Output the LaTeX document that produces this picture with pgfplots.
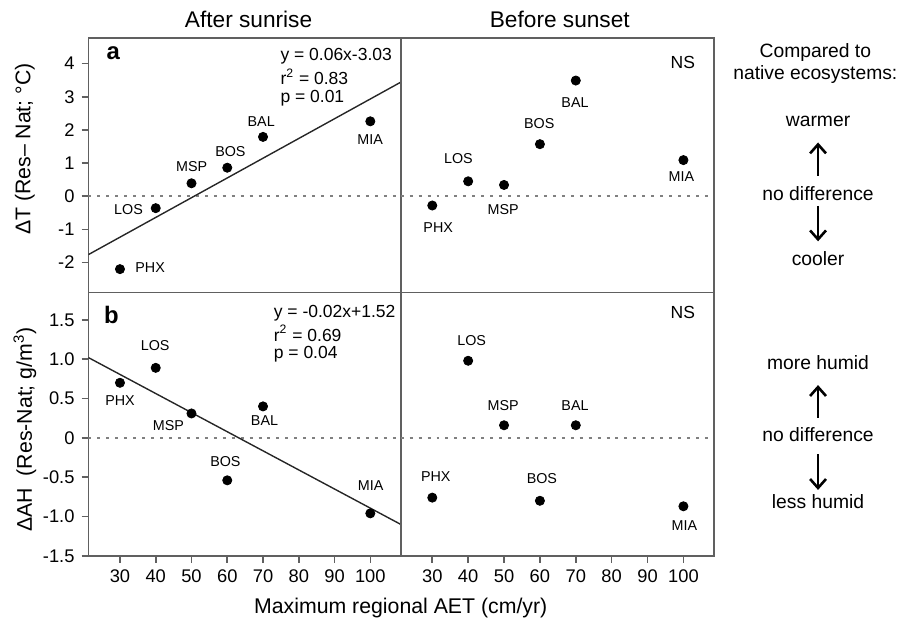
\documentclass[border=0pt]{standalone}
\usepackage{fontspec}
\setmainfont{Liberation Sans}
\usepackage{pgfplots}
\pgfplotsset{compat=1.18}
\usetikzlibrary{arrows.meta}

\pgfplotsset{
  panel/.style={
    scale only axis, anchor=north west,
    axis line style={draw=gray!75!black, line width=0.8pt},
    tick style={draw=gray!75!black, line width=0.8pt},
    tick align=outside, major tick length=3.5pt,
    xmin=21.2, xmax=108.5,
    xtick pos=bottom, ytick pos=left,
    /pgf/number format/assume math mode=true,
    ticklabel style={font=\fontsize{9.2}{10}\selectfont},
    xtick={30,40,50,60,70,80,90,100},
  },
  zero/.style={gray, dash pattern=on 1.5pt off 3pt, line width=0.8pt},
  pts/.style={only marks, mark=*, mark size=2.3pt, black},
  reg/.style={gray!30!black, line width=0.7pt},
}

\begin{document}
\begin{tikzpicture}
\path (0,0) rectangle (452pt,312.5pt);

% ---------- panel a: After sunrise, dT ----------
\begin{axis}[panel, at={(44.5pt,293.5pt)}, width=157pt, height=128pt,
  ymin=-2.9, ymax=4.78, xtick=\empty,
  ytick={-2,-1,0,1,2,3,4}, yticklabels={-2,-1,0,1,2,3,4}]
\addplot[zero] coordinates {(21.2,0) (108.5,0)};
\addplot[reg] coordinates {(21.2,-1.76) (108.5,3.44)};
\addplot[pts] coordinates {(30,-2.2) (40,-0.36) (50,0.39) (60,0.86) (70,1.79) (100,2.26)};
\end{axis}

% ---------- panel c: Before sunset, dT ----------
\begin{axis}[panel, at={(201.5pt,293.5pt)}, width=157.5pt, height=128pt,
  ymin=-2.9, ymax=4.78, xtick=\empty, ytick=\empty]
\addplot[zero] coordinates {(21.2,0) (108.5,0)};
\addplot[pts] coordinates {(30,-0.28) (40,0.45) (50,0.34) (60,1.57) (70,3.49) (100,1.09)};
\end{axis}

% ---------- panel b: After sunrise, dAH ----------
\begin{axis}[panel, at={(44.5pt,165.5pt)}, width=157pt, height=132.5pt,
  ymin=-1.5, ymax=1.85,
  xticklabels={30,40,50,60,70,80,90,100},
  ytick={-1.5,-1,-0.5,0,0.5,1,1.5}, yticklabels={-1.5,-1.0,-0.5,0,0.5,1.0,1.5}]
\addplot[zero] coordinates {(21.2,0) (108.5,0)};
\addplot[reg] coordinates {(21.2,1.02) (108.5,-1.10)};
\addplot[pts] coordinates {(30,0.70) (40,0.89) (50,0.31) (60,-0.54) (70,0.40) (100,-0.96)};
\end{axis}

% ---------- panel d: Before sunset, dAH ----------
\begin{axis}[panel, at={(201.5pt,165.5pt)}, width=157.5pt, height=132.5pt,
  ymin=-1.5, ymax=1.85, ytick=\empty,
  xticklabels={30,40,50,60,70,80,90,100}]
\addplot[zero] coordinates {(21.2,0) (108.5,0)};
\addplot[pts] coordinates {(30,-0.76) (40,0.98) (50,0.16) (60,-0.80) (70,0.16) (100,-0.87)};
\end{axis}

\begin{scope}[x=0.5pt, y=-0.5pt, shift={(0pt,312.5pt)}]
% ---------- titles and axis labels ----------
\node[font=\fontsize{11.4}{13}\selectfont] at (250,20) {After sunrise};
\node[font=\fontsize{11.4}{13}\selectfont] at (563,20) {Before sunset};
\node[font=\fontsize{10.7}{12}\selectfont] at (403,611) {Maximum regional AET (cm/yr)};
\node[font=\fontsize{10.7}{12}\selectfont, rotate=90] at (25,150) {ΔT (Res– Nat; °C)};
\node[font=\fontsize{10.7}{12}\selectfont, rotate=90] at (25,432) {ΔAH\ \ (Res-Nat; g/m\textsuperscript{3})};

% ---------- panel letters, stats ----------
\node[font=\fontsize{12}{14}\selectfont\bfseries] at (114,53) {a};
\node[font=\fontsize{12}{14}\selectfont\bfseries] at (112,317) {b};
\begin{scope}[every node/.style={font=\fontsize{8.8}{10}\selectfont, anchor=west, inner sep=0pt}]
\node at (281.7,56.7) {y = 0.06x-3.03};
\node at (281.7,77.3) {r\textsuperscript{2} = 0.83};
\node at (281.7,98.3) {p = 0.01};
\node at (275,315) {y = -0.02x+1.52};
\node at (275,335) {r\textsuperscript{2} = 0.69};
\node at (275,356) {p = 0.04};
\end{scope}
\node[font=\fontsize{8.8}{10}\selectfont] at (686.7,62.7) {NS};
\node[font=\fontsize{8.8}{10}\selectfont] at (686.7,314) {NS};

% ---------- point labels ----------
\begin{scope}[every node/.style={font=\fontsize{7.2}{8}\selectfont, inner sep=0pt}]
% a
\node at (151,269.3) {PHX};
\node at (129.3,210.7) {LOS};
\node at (192.7,167.7) {MSP};
\node at (231.7,152) {BOS};
\node at (262.7,122.3) {BAL};
\node at (372.3,140) {MIA};
% c
\node at (440.7,228.7) {PHX};
\node at (461,159) {LOS};
\node at (506,211) {MSP};
\node at (542.3,124) {BOS};
\node at (578.3,102.7) {BAL};
\node at (685.3,177.7) {MIA};
% b
\node at (120.7,403.3) {PHX};
\node at (156,347.3) {LOS};
\node at (169.3,427.7) {MSP};
\node at (226.7,464) {BOS};
\node at (266,423.3) {BAL};
\node at (372.7,488.3) {MIA};
% d
\node at (438.3,479) {PHX};
\node at (474.3,342.7) {LOS};
\node at (506,407.7) {MSP};
\node at (545,481.7) {BOS};
\node at (578.3,408.3) {BAL};
\node at (688.3,528.7) {MIA};
\end{scope}

% ---------- right annotations ----------
\begin{scope}[every node/.style={font=\fontsize{9.7}{11}\selectfont}]
\node at (820,52.7) {Compared to};
\node at (820,75) {native ecosystems:};
\node at (822.7,121.7) {warmer};
\node at (822.7,194.3) {no difference};
\node at (822.7,260) {cooler};
\node at (822.7,365) {more humid};
\node at (822.7,437.3) {no difference};
\node at (822.7,504) {less humid};
\end{scope}
\begin{scope}[line width=1.3pt, -{Straight Barb[length=4.5pt,width=8pt]}]
\draw (822.7,176.7) -- (822.7,143.3);
\draw (822.7,207) -- (822.7,242.7);
\draw (822.7,420) -- (822.7,387.3);
\draw (822.7,456.7) -- (822.7,492.7);
\end{scope}
\end{scope}
\end{tikzpicture}
\end{document}
